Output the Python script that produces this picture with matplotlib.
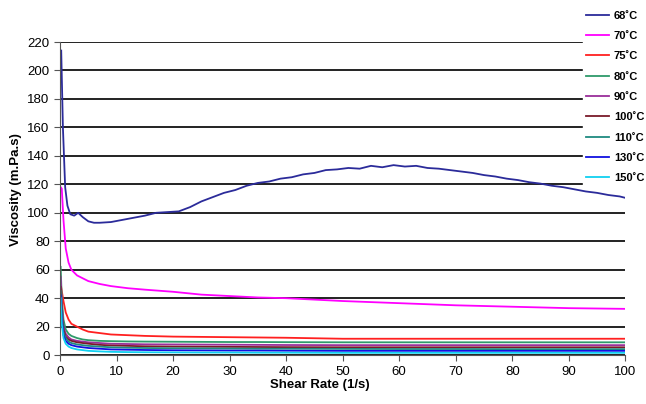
import numpy as np
import matplotlib.pyplot as plt

plt.rcParams['font.family'] = ['Liberation Sans', 'DejaVu Sans']

# temperatures and colours
labels = ['68˚C', '70˚C', '75˚C', '80˚C', '90˚C', '100˚C', '110˚C', '130˚C', '150˚C']
colors = ['#2b2b9a', '#ff00ff', '#ff2020', '#2e9a6a', '#9a2e9a', '#7a1a2a', '#1f8a80', '#1010e0', '#10d0f0']

# 68 C
x68 = [0.2, 0.5, 0.9, 1.3, 1.8, 2.5, 3.2, 4, 5, 6, 7, 9, 11, 13, 15, 17, 19, 21, 23, 25,
       27, 29, 31, 33, 35, 37, 39, 41, 43, 45, 47, 49, 51, 53, 55, 57, 59, 61, 63, 65,
       67, 69, 71, 73, 75, 77, 79, 81, 83, 85, 87, 89, 91, 93, 95, 97, 99, 100]
y68 = [214, 160, 118, 105, 99, 98, 100, 97, 94, 93, 93, 93.5, 95, 96.5, 98, 100, 100.5, 101, 104, 108,
       111, 114, 116, 119, 121, 122, 124, 125, 127, 128, 130, 130.5, 131.5, 131, 133, 132, 133.5, 132.5, 133, 131.5,
       131, 130, 129, 128, 126.5, 125.5, 124, 123, 121.5, 120.5, 119, 118, 116.5, 115, 114, 112.5, 111.5, 110.5]

# shared x for the lower curves
x_low = [0.1, 0.3, 0.6, 1.0, 1.5, 2, 3, 4, 5, 7, 9, 12, 15, 20, 25, 30, 35, 40, 50, 60, 70, 80, 90, 100]
y70 = [118, 117, 95, 75, 65, 60, 56, 54, 52, 50, 48.5, 47, 46, 44.5, 42.5, 41.5, 40.5, 40, 38, 36.5, 35, 34, 33, 32.5]
y75 = [50, 45, 38, 30, 25, 22, 20, 18, 16.5, 15.5, 14.5, 14, 13.5, 13, 12.8, 12.6, 12.4, 12.2, 11.5, 11.5, 11.5, 11.5, 11.5, 11.5]
y80 = [62, 40, 25, 18, 15, 13.5, 12, 11, 10.5, 10, 9.8, 9.6, 9.5, 9.4, 9.3, 9.2, 9.2, 9.1, 9, 9, 9, 9, 9, 9]
y90 = [55, 35, 20, 15, 12.5, 11, 10, 9.5, 9, 8.5, 8, 7.8, 7.6, 7.5, 7.4, 7.3, 7.2, 7.1, 7, 7, 7, 7, 7, 7]
y100 = [48, 30, 18, 13, 11, 10, 9, 8.5, 8, 7.2, 6.8, 6.5, 6.2, 6, 5.9, 5.8, 5.7, 5.6, 5.5, 5.5, 5.5, 5.5, 5.5, 5.5]
y110 = [45, 28, 16, 12, 9.5, 8.5, 7.5, 7, 6.5, 6, 5.5, 5.2, 5, 4.8, 4.7, 4.6, 4.5, 4.5, 4.4, 4.3, 4.3, 4.2, 4.2, 4.2]
y130 = [42, 25, 14, 10, 8, 7, 6, 5.5, 5, 4.5, 4, 3.8, 3.6, 3.4, 3.3, 3.2, 3.2, 3.1, 3, 3, 3, 3, 3, 3]
y150 = [40, 22, 12, 8, 6, 5, 4, 3.5, 3, 2.6, 2.3, 2.1, 2, 1.9, 1.8, 1.8, 1.7, 1.7, 1.6, 1.6, 1.6, 1.6, 1.6, 1.6]

fig = plt.figure(figsize=(6.46, 4.04), dpi=100)
ax = fig.add_axes([0.093, 0.121, 0.875, 0.775])

ax.plot(x68, y68, color=colors[0], lw=1.3, label=labels[0])
for y, c, lab in zip([y70, y75, y80, y90, y100, y110, y130, y150], colors[1:], labels[1:]):
    ax.plot(x_low, y, color=c, lw=1.3, label=lab)

ax.set_xlim(0, 100)
ax.set_ylim(0, 220)
ax.set_xticks(np.arange(0, 101, 10))
ax.set_yticks(np.arange(0, 221, 20))
ax.yaxis.grid(True, color='#222222', lw=1.4)
ax.set_axisbelow(True)
for s in ['top', 'right']:
    ax.spines[s].set_visible(False)
for s in ['left', 'bottom']:
    ax.spines[s].set_color('#555555')
ax.tick_params(labelsize=9.5, color='#555555', length=4)

ax.set_xlabel('Shear Rate (1/s)', fontsize=9.5, fontweight='bold')
ax.set_ylabel('Viscosity (m.Pa.s)', fontsize=9.5, fontweight='bold')
ax.xaxis.set_label_coords(0.46, -0.075)
ax.yaxis.set_label_coords(-0.068, 0.53)

leg = fig.legend(loc='upper left', bbox_to_anchor=(0.902, 0.982), frameon=True,
                 prop={'weight': 'bold', 'size': 8}, handlelength=2.1,
                 labelspacing=0.93, handletextpad=0.4, borderaxespad=0, borderpad=0.3)
leg.get_frame().set_edgecolor('white')
leg.get_frame().set_facecolor('white')
leg.get_frame().set_alpha(1)

fig.savefig('out.png', dpi=100)
